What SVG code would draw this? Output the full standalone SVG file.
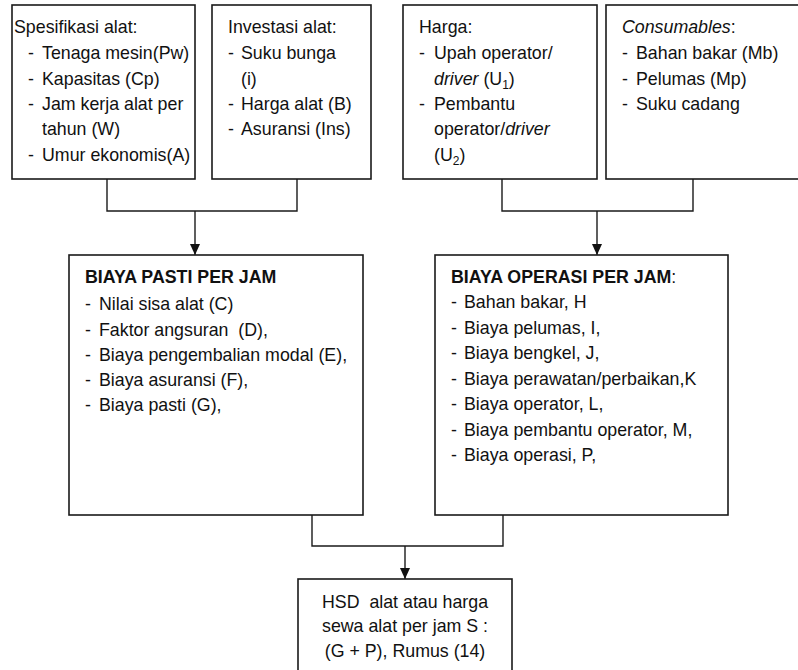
<svg xmlns="http://www.w3.org/2000/svg" width="798" height="670" viewBox="0 0 798 670">
<style>
  .box { fill: #ffffff; stroke: #1a1a1a; stroke-width: 1.6; }
  .t { font-family: "Liberation Sans", Arial, sans-serif; font-size: 17.8px; fill: #111111; }
  .b { font-weight: bold; }
  .i { font-style: italic; }
  .c { text-anchor: middle; }
  .ln { fill: none; stroke: #1a1a1a; stroke-width: 1.4; }
</style>
<defs>
  <marker id="arr" markerWidth="10" markerHeight="12" refX="11" refY="5" orient="auto" markerUnits="userSpaceOnUse">
    <path d="M0,0 L11,5 L0,10 Z" fill="#111111"/>
  </marker>
</defs>
<rect width="798" height="670" fill="#ffffff"/>

<g id="connectors">
  <polyline class="ln" points="107,179 107,211 297,211 297,179"/>
  <line class="ln" x1="195" y1="211" x2="195" y2="255" marker-end="url(#arr)"/>
  <polyline class="ln" points="502,179 502,211 693,211 693,179"/>
  <line class="ln" x1="597" y1="211" x2="597" y2="255" marker-end="url(#arr)"/>
  <polyline class="ln" points="312,515 312,546 503,546 503,515"/>
  <line class="ln" x1="405" y1="546" x2="405" y2="579" marker-end="url(#arr)"/>
</g>

<g id="spesifikasi">
  <rect class="box" x="12" y="5" width="183" height="174"/>
  <text class="t" x="14" y="33">Spesifikasi alat:</text>
  <text class="t" x="28" y="59">-</text><text class="t" x="42" y="59">Tenaga mesin(Pw)</text>
  <text class="t" x="28" y="85">-</text><text class="t" x="42" y="85">Kapasitas (Cp)</text>
  <text class="t" x="28" y="110">-</text><text class="t" x="42" y="110">Jam kerja alat per</text>
  <text class="t" x="42" y="135">tahun (W)</text>
  <text class="t" x="28" y="161">-</text><text class="t" x="42" y="161">Umur ekonomis(A)</text>
</g>

<g id="investasi">
  <rect class="box" x="212" y="5" width="159" height="174"/>
  <text class="t" x="228" y="33">Investasi alat:</text>
  <text class="t" x="228" y="59">-</text><text class="t" x="241" y="59">Suku bunga</text>
  <text class="t" x="241" y="85">(i)</text>
  <text class="t" x="228" y="110">-</text><text class="t" x="241" y="110">Harga alat (B)</text>
  <text class="t" x="228" y="135">-</text><text class="t" x="241" y="135">Asuransi (Ins)</text>
</g>

<g id="harga">
  <rect class="box" x="403" y="5" width="194" height="174"/>
  <text class="t" x="419" y="33">Harga:</text>
  <text class="t" x="419" y="59">-</text><text class="t" x="434" y="59">Upah operator/</text>
  <text class="t" x="434" y="85"><tspan class="i">driver</tspan> (U<tspan font-size="12" dy="4">1</tspan><tspan dy="-4">)</tspan></text>
  <text class="t" x="419" y="110">-</text><text class="t" x="434" y="110">Pembantu</text>
  <text class="t" x="434" y="135">operator/<tspan class="i">driver</tspan></text>
  <text class="t" x="434" y="161">(U<tspan font-size="12" dy="4">2</tspan><tspan dy="-4">)</tspan></text>
</g>

<g id="consumables">
  <rect class="box" x="606" y="5" width="200" height="174"/>
  <text class="t" x="622" y="33"><tspan class="i">Consumables</tspan>:</text>
  <text class="t" x="622" y="59">-</text><text class="t" x="636" y="59">Bahan bakar (Mb)</text>
  <text class="t" x="622" y="85">-</text><text class="t" x="636" y="85">Pelumas (Mp)</text>
  <text class="t" x="622" y="110">-</text><text class="t" x="636" y="110">Suku cadang</text>
</g>

<g id="biaya-pasti">
  <rect class="box" x="69" y="255" width="294" height="260"/>
  <text class="t b" x="85" y="283">BIAYA PASTI PER JAM</text>
  <text class="t" x="85" y="310">-</text><text class="t" x="99" y="310">Nilai sisa alat (C)</text>
  <text class="t" x="85" y="336">-</text><text class="t" x="99" y="336" xml:space="preserve">Faktor angsuran  (D),</text>
  <text class="t" x="85" y="361">-</text><text class="t" x="99" y="361">Biaya pengembalian modal (E),</text>
  <text class="t" x="85" y="386">-</text><text class="t" x="99" y="386">Biaya asuransi (F),</text>
  <text class="t" x="85" y="411">-</text><text class="t" x="99" y="411">Biaya pasti (G),</text>
</g>

<g id="biaya-operasi">
  <rect class="box" x="435" y="255" width="293" height="260"/>
  <text class="t" x="451" y="283"><tspan class="b">BIAYA OPERASI PER JAM</tspan>:</text>
  <text class="t" x="451" y="308">-</text><text class="t" x="464" y="308">Bahan bakar, H</text>
  <text class="t" x="451" y="334">-</text><text class="t" x="464" y="334">Biaya pelumas, I,</text>
  <text class="t" x="451" y="359">-</text><text class="t" x="464" y="359">Biaya bengkel, J,</text>
  <text class="t" x="451" y="385">-</text><text class="t" x="464" y="385">Biaya perawatan/perbaikan,K</text>
  <text class="t" x="451" y="410">-</text><text class="t" x="464" y="410">Biaya operator, L,</text>
  <text class="t" x="451" y="436">-</text><text class="t" x="464" y="436">Biaya pembantu operator, M,</text>
  <text class="t" x="451" y="461">-</text><text class="t" x="464" y="461">Biaya operasi, P,</text>
</g>

<g id="hsd">
  <rect class="box" x="298" y="579" width="214" height="110"/>
  <text class="t c" x="405" y="608" xml:space="preserve">HSD  alat atau harga</text>
  <text class="t c" x="405" y="632">sewa alat per jam S :</text>
  <text class="t c" x="405" y="657">(G + P), Rumus (14)</text>
</g>
</svg>
